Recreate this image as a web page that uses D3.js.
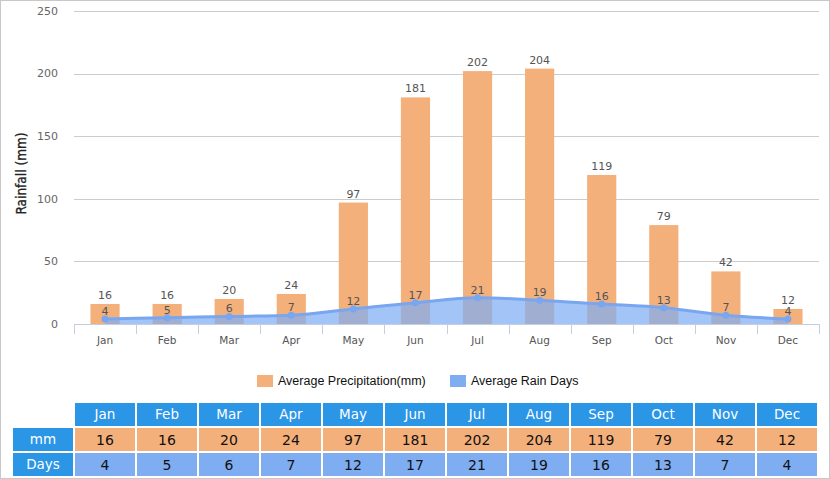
<!DOCTYPE html>
<html>
<head>
<meta charset="utf-8">
<script src="https://cdn.jsdelivr.net/npm/d3@7"></script>
<style>
  body { margin: 0; background: #fff; }
  svg { display: block; }
</style>
</head>
<body>
<script>
// chart data ==============================================================
var months   = ["Jan", "Feb", "Mar", "Apr", "May", "Jun", "Jul", "Aug", "Sep", "Oct", "Nov", "Dec"]
var rainfall = [16, 16, 20, 24, 97, 181, 202, 204, 119, 79, 42, 12]
var rainDays = [4, 5, 6, 7, 12, 17, 21, 19, 16, 13, 7, 4]
var yTicks   = [0, 50, 100, 150, 200, 250]
var seriesNames = ["Average Precipitation(mm)", "Average Rain Days"]
var rowNames = ["mm", "Days"]

var W = 830, H = 479
var colors = { bar: "#f4b07b", days: "#7fadf2", head: "#2b95e6", grid: "#cccccc", axis: "#c5cede", text: "#555" }
var font = "'DejaVu Sans', Verdana, sans-serif"

var svg = d3.select("body").append("svg")
    .attr("width", W)
    .attr("height", H)

// outer frame
svg.append("rect")
    .attr("x", 0.5).attr("y", 0.5)
    .attr("width", W - 1).attr("height", H - 1)
    .style("fill", "none")
    .style("stroke", "#c8c8c8")

var plot = { left: 74, right: 819, top: 11, bottom: 324 }

var x = d3.scaleBand()
    .domain(months)
    .range([plot.left, plot.right])
    .paddingInner(0.53).paddingOuter(0.265)
var xc = function(m) { return x(m) + x.bandwidth() / 2 }
var xTickScale = d3.scalePoint().domain(d3.range(13)).range([plot.left, plot.right])

var y = d3.scaleLinear().domain([0, 250]).range([plot.bottom, plot.top])

// grid lines
svg.append("g")
    .selectAll("line")
    .data(yTicks.slice(1))
    .enter().append("line")
    .attr("x1", plot.left).attr("x2", plot.right)
    .attr("y1", function(d) { return Math.round(y(d)) + 0.5 })
    .attr("y2", function(d) { return Math.round(y(d)) + 0.5 })
    .style("stroke", colors.grid)

// y tick labels
svg.append("g")
    .selectAll("text")
    .data(yTicks)
    .enter().append("text")
    .attr("x", 58)
    .attr("y", function(d) { return y(d) })
    .attr("dy", "0.35em")
    .attr("text-anchor", "end")
    .attr("font-family", font)
    .attr("font-size", "11px")
    .style("fill", "#666")
    .text(function(d) { return d })

// y axis title
svg.append("text")
    .attr("transform", "translate(26," + ((plot.top + plot.bottom) / 2 + 6) + ") rotate(-90)")
    .attr("text-anchor", "middle")
    .attr("font-family", "'DejaVu Sans Condensed', 'DejaVu Sans', sans-serif")
    .attr("font-size", "13.5px")
    .style("fill", "#222")
    .style("stroke", "#222")
    .style("stroke-width", 0.3)
    .text("Rainfall (mm)")

// bars
svg.append("g")
    .selectAll("rect")
    .data(rainfall)
    .enter().append("rect")
    .attr("x", function(d, i) { return x(months[i]) })
    .attr("y", function(d) { return y(d) })
    .attr("width", x.bandwidth())
    .attr("height", function(d) { return y(0) - y(d) })
    .style("fill", colors.bar)

// rain days area + line
var area = d3.area()
    .x(function(d, i) { return xc(months[i]) })
    .y0(y(0))
    .y1(function(d) { return y(d) })
    .curve(d3.curveMonotoneX)
var line = d3.line()
    .x(function(d, i) { return xc(months[i]) })
    .y(function(d) { return y(d) })
    .curve(d3.curveMonotoneX)

svg.append("path")
    .datum(rainDays)
    .attr("d", area)
    .style("fill", colors.days)
    .style("fill-opacity", 0.72)

svg.append("path")
    .datum(rainDays)
    .attr("d", line)
    .style("fill", "none")
    .style("stroke", "#78a6f0")
    .style("stroke-width", 3)

svg.append("g")
    .selectAll("circle")
    .data(rainDays)
    .enter().append("circle")
    .attr("cx", function(d, i) { return xc(months[i]) })
    .attr("cy", function(d) { return y(d) })
    .attr("r", 3.5)
    .style("fill", "#78a6f0")

// x axis
var xAxis = svg.append("g")
xAxis.append("line")
    .attr("x1", plot.left).attr("x2", plot.right)
    .attr("y1", plot.bottom + 0.5).attr("y2", plot.bottom + 0.5)
    .style("stroke", colors.axis)
xAxis.selectAll(".tick")
    .data(d3.range(13))
    .enter().append("line")
    .attr("x1", function(d) { return Math.round(xTickScale(d)) + 0.5 })
    .attr("x2", function(d) { return Math.round(xTickScale(d)) + 0.5 })
    .attr("y1", plot.bottom).attr("y2", plot.bottom + 10)
    .style("stroke", colors.axis)
xAxis.selectAll("text")
    .data(months)
    .enter().append("text")
    .attr("x", xc)
    .attr("y", 344)
    .attr("text-anchor", "middle")
    .attr("font-family", font)
    .attr("font-size", "10.5px")
    .style("fill", "#555")
    .text(function(d) { return d })

// value labels
svg.append("g")
    .selectAll("text")
    .data(rainfall)
    .enter().append("text")
    .attr("x", function(d, i) { return xc(months[i]) })
    .attr("y", function(d) { return y(d) - 5 })
    .attr("text-anchor", "middle")
    .attr("font-family", font)
    .attr("font-size", "11px")
    .style("fill", colors.text)
    .text(function(d) { return d })

svg.append("g")
    .selectAll("text")
    .data(rainDays)
    .enter().append("text")
    .attr("x", function(d, i) { return xc(months[i]) })
    .attr("y", function(d) { return y(d) - 4 })
    .attr("text-anchor", "middle")
    .attr("font-family", font)
    .attr("font-size", "11px")
    .style("fill", colors.text)
    .text(function(d) { return d })

// legend
var legendX = [257, 450]
var legend = svg.append("g")
    .selectAll("g")
    .data(seriesNames)
    .enter().append("g")
    .attr("transform", function(d, i) { return "translate(" + legendX[i] + ",375)" })
legend.append("rect")
    .attr("width", 16).attr("height", 12)
    .style("fill", function(d, i) { return i == 0 ? colors.bar : colors.days })
legend.append("text")
    .attr("x", 21).attr("y", 6)
    .attr("dy", "0.35em")
    .attr("font-family", "'Liberation Sans', Arial, sans-serif")
    .attr("font-size", "12.5px")
    .style("fill", "#111")
    .text(function(d) { return d })

// table
var colX = d3.scalePoint().domain(d3.range(12)).range([75, 757])
var rowY = [403, 428, 453]
var cellW = 60, cellH = 23
var table = svg.append("g")

// header
table.selectAll(".head")
    .data(months)
    .enter().append("rect")
    .attr("x", function(d, i) { return colX(i) })
    .attr("y", rowY[0])
    .attr("width", cellW).attr("height", cellH)
    .style("fill", colors.head)
table.selectAll(".headText")
    .data(months)
    .enter().append("text")
    .attr("x", function(d, i) { return colX(i) + cellW / 2 })
    .attr("y", rowY[0] + cellH / 2)
    .attr("dy", "0.36em")
    .attr("text-anchor", "middle")
    .attr("font-family", font)
    .attr("font-size", "13.5px")
    .style("fill", "#fff")
    .text(function(d) { return d })

// data rows
var rows = [rainfall, rainDays]
rows.forEach(function(vals, r) {
    var ry = rowY[r + 1]
    table.append("rect")
        .attr("x", 13).attr("y", ry)
        .attr("width", cellW).attr("height", cellH)
        .style("fill", colors.head)
    table.append("text")
        .attr("x", 13 + cellW / 2)
        .attr("y", ry + cellH / 2)
        .attr("dy", "0.36em")
        .attr("text-anchor", "middle")
        .attr("font-family", font)
        .attr("font-size", "13.5px")
        .style("fill", "#fff")
        .text(rowNames[r])

    var g = table.append("g")
    g.selectAll("rect")
        .data(vals)
        .enter().append("rect")
        .attr("x", function(d, i) { return colX(i) })
        .attr("y", ry)
        .attr("width", cellW).attr("height", cellH)
        .style("fill", r == 0 ? colors.bar : colors.days)
    g.selectAll("text")
        .data(vals)
        .enter().append("text")
        .attr("x", function(d, i) { return colX(i) + cellW / 2 })
        .attr("y", ry + cellH / 2)
        .attr("dy", "0.36em")
        .attr("text-anchor", "middle")
        .attr("font-family", font)
        .attr("font-size", "14px")
        .style("fill", "#111")
        .text(function(d) { return d })
})
</script>
</body>
</html>
